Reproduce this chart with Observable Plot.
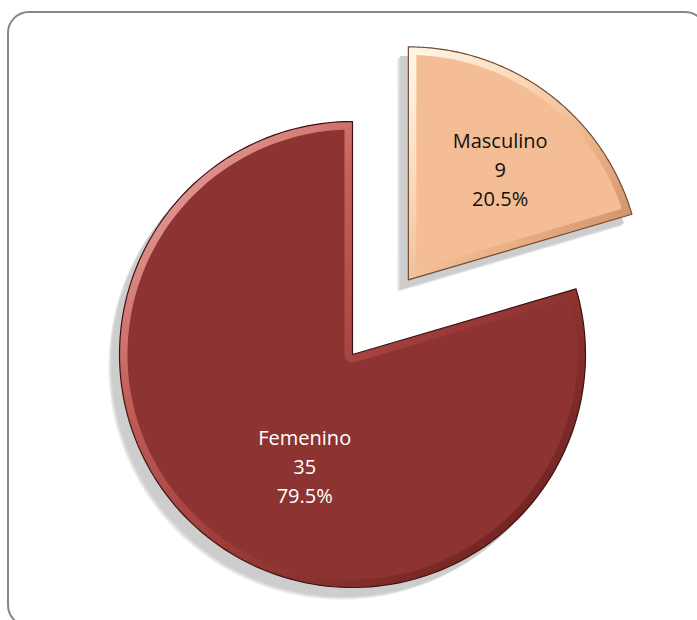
<!DOCTYPE html>
<html><head><meta charset="utf-8">
<script src="https://cdn.jsdelivr.net/npm/d3@7"></script>
<script src="https://cdn.jsdelivr.net/npm/@observablehq/plot@0.6"></script>
<style>
html,body{margin:0;padding:0;background:#fff;overflow:hidden;}
#wrap{position:relative;width:697px;height:620px;overflow:hidden;}
#frame{position:absolute;left:7px;top:11px;width:700px;height:616px;border:2px solid #868686;border-radius:22px;box-sizing:border-box;}
#chart{position:absolute;left:0;top:0;}
</style></head><body>
<div id="wrap"><div id="frame"></div><div id="chart"></div></div>
<script>
// ---- data ----
const categories = ["Masculino", "Femenino"];
const counts = [9, 35];

// ---- styles / layout ----
const baseColors = {Masculino: "#f5bd95", Femenino: "#8d3331"};
const bevelColors = {Masculino: "url(#bevelM)", Femenino: "url(#bevelF)"};
const edgeColors = {Masculino: "#6e4c36", Femenino: "#3e1211"};
const textColors = {Masculino: "#111", Femenino: "#fff"};
const explodeBy = {Masculino: 0.40, Femenino: 0};
const W = 697, H = 620, R = 233, CX = 352, CY = 354;
const bevel = 8 / R;

const total = d3.sum(counts);
const pct = d3.format(".1%");
const arcs = d3.pie().sort(null).value(d => d)(counts);

function wedge(a0, a1, cx, cy, r, n = 160) {
  const pts = [[cx, cy]];
  for (let i = 0; i <= n; i++) {
    const a = a0 + (a1 - a0) * i / n;
    pts.push([cx + r * Math.sin(a), cy + r * Math.cos(a)]);
  }
  return pts;
}
function insetWedge(a0, a1, cx, cy, r, d, n = 160) {
  const span = a1 - a0, mid = (a0 + a1) / 2;
  const ua = [Math.sin(a0), Math.cos(a0)], ub = [Math.sin(a1), Math.cos(a1)];
  const na = [Math.cos(a0), -Math.sin(a0)], nb = [-Math.cos(a1), Math.sin(a1)];
  const rr = r - d, t = Math.sqrt(rr * rr - d * d), da = Math.asin(d / rr);
  const pts = [];
  if (span < Math.PI) {
    const k = d / Math.sin(span / 2);
    pts.push([cx + k * Math.sin(mid), cy + k * Math.cos(mid)]);
  } else {
    pts.push([cx + d * na[0], cy + d * na[1]]);
  }
  pts.push([cx + d * na[0] + t * ua[0], cy + d * na[1] + t * ua[1]]);
  for (let i = 0; i <= n; i++) {
    const a = (a0 + da) + ((a1 - da) - (a0 + da)) * i / n;
    pts.push([cx + rr * Math.sin(a), cy + rr * Math.cos(a)]);
  }
  pts.push([cx + d * nb[0] + t * ub[0], cy + d * nb[1] + t * ub[1]]);
  if (span >= Math.PI) {
    pts.push([cx + d * nb[0], cy + d * nb[1]]);
    const b0 = a1 - Math.PI / 2, b1 = a0 + Math.PI / 2;
    for (let i = 0; i <= 20; i++) {
      const a = b0 + (b1 - b0) * i / 20;
      pts.push([cx + d * Math.sin(a), cy + d * Math.cos(a)]);
    }
  }
  return pts;
}

const outer = [], inner = [], labels = [];
arcs.forEach((arc, i) => {
  const name = categories[i];
  const mid = (arc.startAngle + arc.endAngle) / 2;
  const e = explodeBy[name];
  const cx = e * Math.sin(mid), cy = e * Math.cos(mid);
  wedge(arc.startAngle, arc.endAngle, cx, cy, 1).forEach(([x, y]) => outer.push({name, x, y}));
  insetWedge(arc.startAngle, arc.endAngle, cx, cy, 1, bevel).forEach(([x, y]) => inner.push({name, x, y}));
  const lr = 0.55;
  labels.push({name, x: cx + lr * Math.sin(mid), y: cy + lr * Math.cos(mid),
    text: `${name}\n${counts[i]}\n${pct(counts[i] / total)}`});
});

const byName = (arr, n) => arr.filter(d => d.name === n);
const marks = [];
// soft drop shadow (layered, lightest/largest first)
const shadowLayers = [[-11, 12, "#ececec"], [-10, 11, "#e0e0e0"], [-9, 10, "#d3d3d3"], [-8, 9, "#cdcdcd"]];
for (const [dx, dy, c] of shadowLayers) {
  marks.push(Plot.line(outer, {x: "x", y: "y", z: "name", curve: "linear-closed", fill: c, stroke: "none", dx, dy}));
}
for (const n of categories) {
  marks.push(Plot.line(byName(outer, n), {x: "x", y: "y", curve: "linear-closed", fill: bevelColors[n], stroke: edgeColors[n], strokeWidth: 1.2}));
  marks.push(Plot.line(byName(inner, n), {x: "x", y: "y", curve: "linear-closed", fill: baseColors[n], stroke: "none"}));
}
marks.push(Plot.text(byName(labels, "Masculino"), {x: "x", y: "y", text: "text", fill: textColors.Masculino, fontSize: 20, lineHeight: 1.45, dx: 15, dy: -10}));
marks.push(Plot.text(byName(labels, "Femenino"), {x: "x", y: "y", text: "text", fill: textColors.Femenino, fontSize: 20, lineHeight: 1.45, dx: 29, dy: 8}));

const svg = Plot.plot({
  width: W, height: H, margin: 0,
  style: {fontFamily: "'Open Sans', sans-serif", background: "transparent", overflow: "visible"},
  x: {type: "linear", domain: [-CX / R, (W - CX) / R], axis: null},
  y: {type: "linear", domain: [(CY - H) / R, CY / R], axis: null},
  marks
});
const s = d3.select(svg);
const defs = s.insert("defs", ":first-child");
function grad(id, x1, y1, x2, y2, stops) {
  const g = defs.append("linearGradient").attr("id", id)
    .attr("x1", x1).attr("y1", y1).attr("x2", x2).attr("y2", y2);
  stops.forEach(([o, c]) => g.append("stop").attr("offset", o).attr("stop-color", c));
}
grad("bevelF", 0, 0.2, 0.8, 1, [[0, "#e7a09a"], [0.25, "#c4605b"], [0.6, "#9a3a37"], [1, "#6e2321"]]);
grad("bevelM", 0, 0.1, 0.9, 1, [[0, "#fff4e4"], [0.3, "#fbd7b6"], [0.7, "#e8ab80"], [1, "#c48a62"]]);
document.getElementById("chart").appendChild(svg);
</script>
</body></html>
